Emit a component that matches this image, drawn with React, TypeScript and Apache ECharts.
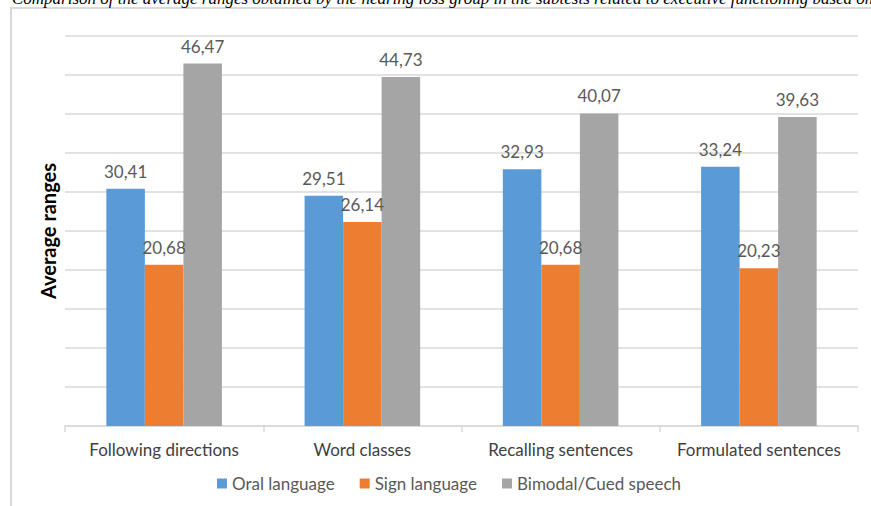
import React, { useEffect, useRef } from "react";
import * as echarts from "echarts";

const categories = [
  "Following directions",
  "Word classes",
  "Recalling sentences",
  "Formulated sentences",
];
const oralLanguage = [30.41, 29.51, 32.93, 33.24];
const signLanguage = [20.68, 26.14, 20.68, 20.23];
const bimodalCued = [46.47, 44.73, 40.07, 39.63];
const seriesNames = ["Oral language", "Sign language", "Bimodal/Cued speech"];
const captionText =
  "Comparison of the average ranges obtained by the hearing loss group in the subtests related to executive functioning based on";

const FONT = "Lato, 'Open Sans', sans-serif";
const colors = ["#5B9BD5", "#ED7D31", "#A5A5A5"];

const fmt = (v: number) => v.toFixed(2).replace(".", ",");

export default function App() {
  const ref = useRef<HTMLDivElement>(null);

  useEffect(() => {
    if (!ref.current) return;
    const chart = echarts.init(ref.current, null, { renderer: "svg" });
    const mk = (name: string, data: number[], color: string) => ({
      name,
      type: "bar",
      data,
      barGap: "0%",
      barCategoryGap: "41.7%",
      itemStyle: { color },
      label: {
        show: true,
        position: "top",
        distance: 9,
        color: "#595959",
        fontFamily: FONT,
        fontSize: 17,
        formatter: (p: any) => fmt(p.value),
      },
    });
    chart.setOption({
      animation: false,
      backgroundColor: "#ffffff",
      color: colors,
      grid: { left: 65, right: 13, top: 36, bottom: 80 },
      graphic: [
        {
          type: "rect",
          shape: { x: 11, y: 8, width: 900, height: 600 },
          style: { fill: "none", stroke: "#D9D9D9", lineWidth: 2 },
          silent: true,
        },
        {
          // caption line running above the chart frame, its top edge cut by the page
          type: "text",
          x: 12,
          y: 7,
          style: {
            text: captionText,
            fontFamily: "'Liberation Serif', serif",
            fontStyle: "italic",
            fontSize: 17,
            fill: "#000000",
            verticalAlign: "bottom",
          },
          silent: true,
        },
      ],
      legend: {
        bottom: 9,
        left: 212,
        itemWidth: 10,
        itemHeight: 10,
        itemGap: 25,
        icon: "rect",
        textStyle: { color: "#595959", fontFamily: FONT, fontSize: 17 },
        data: seriesNames,
      },
      xAxis: {
        type: "category",
        data: categories,
        axisLine: { lineStyle: { color: "#D9D9D9", width: 1.5 } },
        axisTick: {
          show: true,
          interval: 0,
          length: 6,
          lineStyle: { color: "#D9D9D9", width: 1.5 },
        },
        axisLabel: {
          interval: 0,
          color: "#404040",
          fontFamily: FONT,
          fontSize: 17,
          margin: 15,
        },
      },
      yAxis: {
        type: "value",
        min: 0,
        max: 50,
        interval: 5,
        name: "Average ranges",
        nameLocation: "middle",
        nameGap: 7,
        nameTextStyle: {
          color: "#000000",
          fontFamily: FONT,
          fontWeight: "bold",
          fontSize: 20,
        },
        axisLabel: { show: false },
        axisLine: { show: false },
        axisTick: { show: false },
        splitLine: { lineStyle: { color: "#D9D9D9", width: 1.5 } },
      },
      series: [
        mk(seriesNames[0], oralLanguage, colors[0]),
        mk(seriesNames[1], signLanguage, colors[1]),
        mk(seriesNames[2], bimodalCued, colors[2]),
      ],
    });
    return () => chart.dispose();
  }, []);

  return (
    <div
      ref={ref}
      style={{ position: "fixed", left: 0, top: 0, width: 871, height: 506 }}
    />
  );
}
